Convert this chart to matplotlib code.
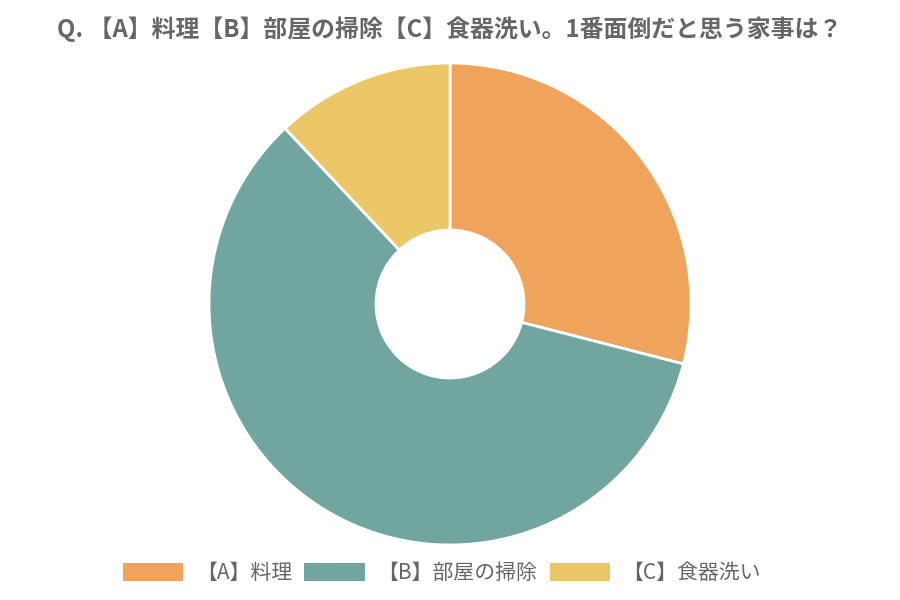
import matplotlib.pyplot as plt
from matplotlib.patches import Patch

plt.rcParams['font.family'] = ['Noto Sans CJK JP', 'DejaVu Sans']

labels = ["【A】料理", "【B】部屋の掃除", "【C】食器洗い"]
values = [29, 59, 12]
colors = ["#F0A35A", "#71A59F", "#ECC767"]
title = "Q. 【A】料理【B】部屋の掃除【C】食器洗い。1番面倒だと思う家事は？"

fig = plt.figure(figsize=(9, 6), dpi=100)
fig.patch.set_facecolor("white")

# pie axes: center (450, 304) px, radius 241 px
r = 241
ax = fig.add_axes([(450 - r) / 900, (600 - 304 - r) / 600, 2 * r / 900, 2 * r / 600])
ax.pie(
    values,
    colors=colors,
    startangle=90,
    counterclock=False,
    radius=1.0,
    wedgeprops=dict(width=1 - 74 / 241, edgecolor="white", linewidth=2),
)
ax.set_xlim(-1, 1)
ax.set_ylim(-1, 1)
ax.set_aspect("equal")
ax.axis("off")

fig.text(0.5, 1 - 29 / 600, title, ha="center", va="center",
         fontsize=17.2, fontweight="bold", color="#666666")

handles = [Patch(facecolor=c, edgecolor="none") for c in colors]
fig.legend(
    handles, labels, loc="center", bbox_to_anchor=(442 / 900, 1 - 573 / 600),
    ncol=3, frameon=False, fontsize=15, labelcolor="#666666",
    handlelength=2.9, handleheight=0.96, handletextpad=0.6, columnspacing=0.6,
)

plt.savefig("out.png", dpi=100)
